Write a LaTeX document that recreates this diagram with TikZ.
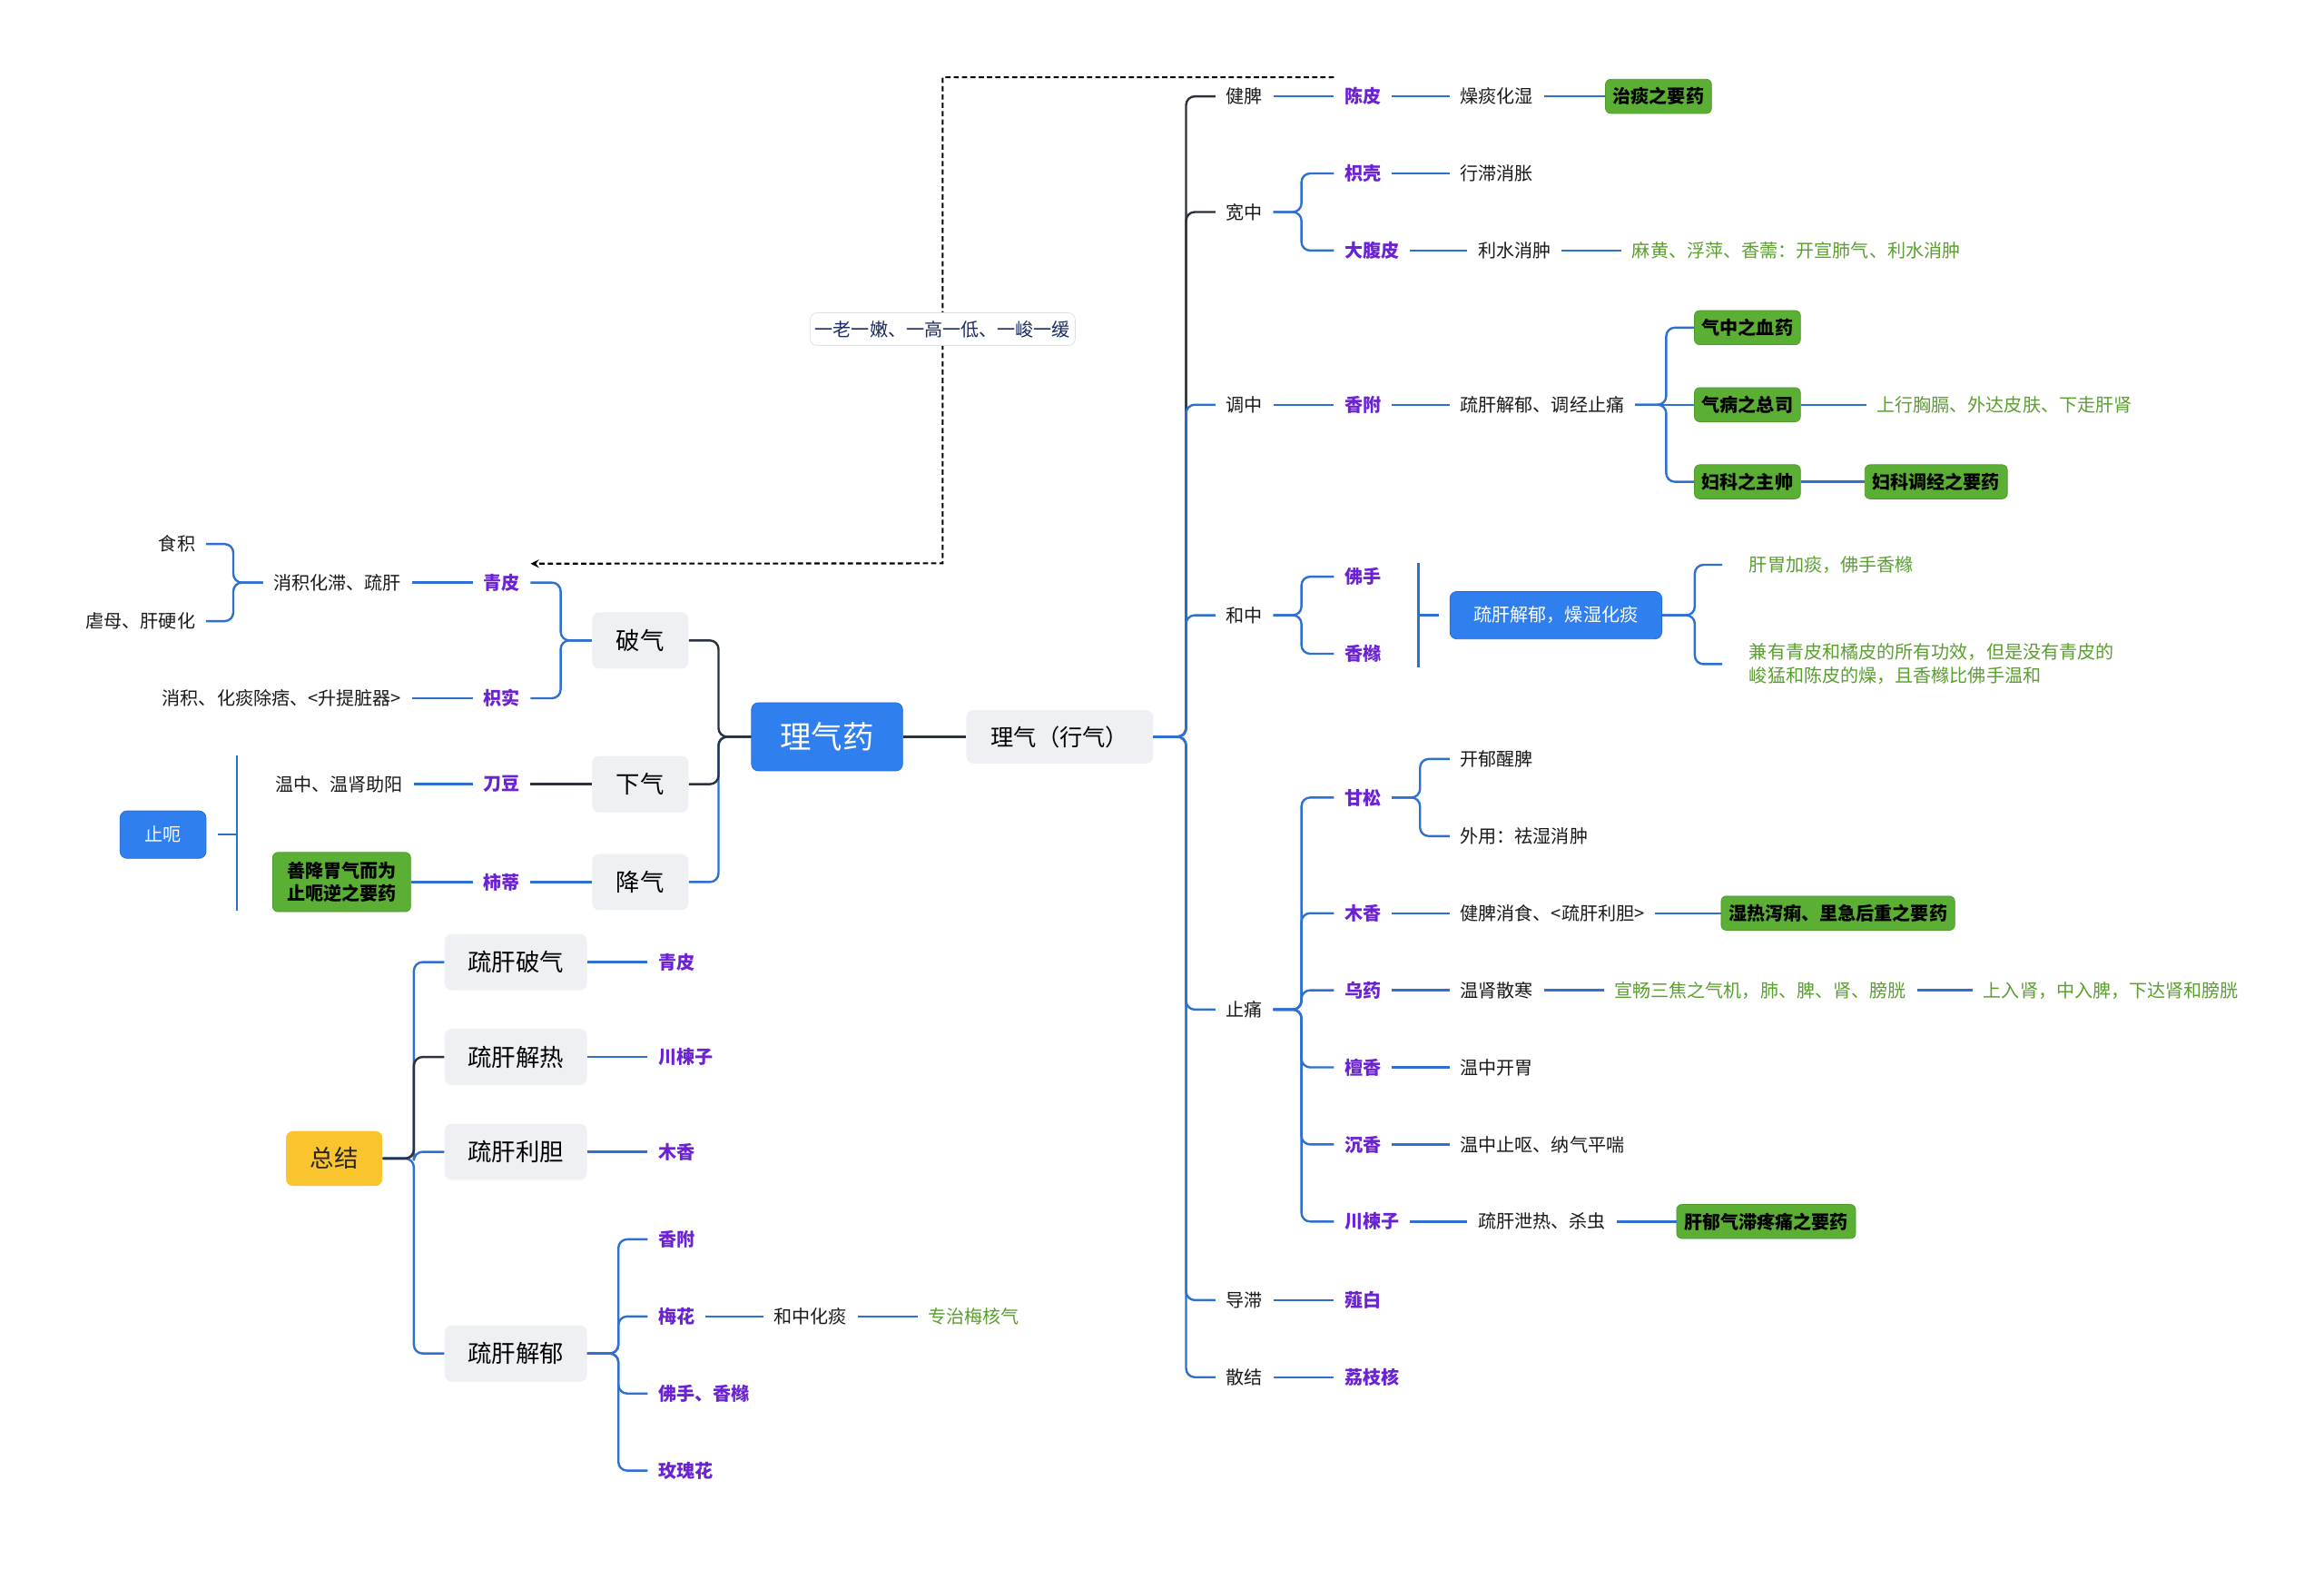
\documentclass[tikz,border=0pt]{standalone}
\usepackage{fontspec}
\setmainfont{Noto Sans CJK SC}
\usepackage{tikz}
\definecolor{rootblue}{HTML}{2F7FEF}
\definecolor{boxgray}{HTML}{EEF0F3}
\definecolor{keygreen}{HTML}{5BAF35}
\definecolor{keyedge}{HTML}{4C9A2A}
\definecolor{notegreen}{HTML}{5A9E2E}
\definecolor{herbpurple}{HTML}{6A22D2}
\definecolor{linkblue}{HTML}{2F6FD0}
\definecolor{linkdark}{HTML}{2B313D}
\definecolor{sumyellow}{HTML}{FAC42E}
\definecolor{tagnavy}{HTML}{1C2B5E}

\begin{document}
\begin{tikzpicture}[x=0.03cm,y=-0.03cm,>=stealth,
  font=\fontsize{10.5}{13.7}\selectfont,
  txt/.style={inner xsep=0.21cm,inner ysep=0.1cm,text=black!90},
  herb/.style={txt,text=herbpurple,font=\fontsize{10.5}{13.7}\selectfont\bfseries},
  note/.style={txt,text=notegreen,align=left},
  keybox/.style={fill=keygreen,draw=keyedge,rounded corners=3pt,inner xsep=0.15cm,minimum height=0.69cm,
    font=\fontsize{10.5}{12.8}\selectfont\bfseries,align=left},
  topic/.style={fill=boxgray,rounded corners=4pt,minimum width=1.95cm,minimum height=1.14cm,
    font=\fontsize{13.8}{16}\selectfont},
  bluebox/.style={fill=rootblue,draw=rootblue!85!black,rounded corners=4pt,text=white},
  conn/.style={draw=linkblue,line width=1.25pt,rounded corners=5pt},
  dconn/.style={conn,draw=linkdark},
  brk/.style={draw=linkblue,line width=1.1pt},
  rel/.style={draw=black,line width=1.1pt,dash pattern=on 3pt off 1.8pt,->},
  tag/.style={fill=white,draw=black!12,rounded corners=4pt,text=tagnavy,inner xsep=0.1cm,minimum height=0.66cm}]
\useasboundingbox (0,0) rectangle (1568,1058);

\node[bluebox,minimum width=3.06cm,minimum height=1.38cm,font=\fontsize{18}{20}\selectfont] (root) at (558,497) {理气药};
\node[topic,minimum width=3.78cm,minimum height=1.08cm,font=\fontsize{13.2}{16}\selectfont] (lqxq) at (715,497) {理气（行气）};

\node[txt,anchor=west] (jianpi) at (820,65) {健脾};
\node[txt,anchor=west] (kuanzhong) at (820,143) {宽中};
\node[txt,anchor=west] (tiaozhong) at (820,273) {调中};
\node[txt,anchor=west] (hezhong) at (820,415) {和中};
\node[txt,anchor=west] (zhitong) at (820,681) {止痛};
\node[txt,anchor=west] (daozhi) at (820,877) {导滞};
\node[txt,anchor=west] (sanjie) at (820,929) {散结};

\node[herb,anchor=west] (chenpi) at (900,65) {陈皮};
\node[txt,anchor=west] (zaotan) at (978,65) {燥痰化湿};
\node[keybox,anchor=west] (zhitan) at (1083,65) {治痰之要药};

\node[herb,anchor=west] (zhiqiao) at (900,117) {枳壳};
\node[txt,anchor=west] (xingzhi) at (978,117) {行滞消胀};
\node[herb,anchor=west] (dafupi) at (900,169) {大腹皮};
\node[txt,anchor=west] (lishui) at (990,169) {利水消肿};
\node[note,anchor=west] (mahuang) at (1094,169) {麻黄、浮萍、香薷：开宣肺气、利水消肿};

\node[herb,anchor=west] (xiangfu) at (900,273) {香附};
\node[txt,anchor=west] (shugan) at (978,273) {疏肝解郁、调经止痛};
\node[keybox,anchor=west] (qixue) at (1143,221) {气中之血药};
\node[keybox,anchor=west] (qibing) at (1143,273) {气病之总司};
\node[keybox,anchor=west] (fuke) at (1143,325) {妇科之主帅};
\node[note,anchor=west] (shangxing) at (1259,273) {上行胸膈、外达皮肤、下走肝肾};
\node[keybox,anchor=west] (fukeyao) at (1258,325) {妇科调经之要药};

\node[herb,anchor=west] (foshou) at (900,389) {佛手};
\node[herb,anchor=west] (xiangyuan) at (900,441) {香橼};
\coordinate (brkhz) at (957,415);
\node[bluebox,anchor=west,minimum width=4.29cm,minimum height=0.96cm] (shgy) at (978,415) {疏肝解郁，燥湿化痰};
\node[note,anchor=west,inner xsep=0.54cm] (ganwei) at (1162,381) {肝胃加痰，佛手香橼};
\node[note,anchor=west,inner xsep=0.54cm] (jianyou) at (1162,448) {兼有青皮和橘皮的所有功效，但是没有青皮的\\峻猛和陈皮的燥，且香橼比佛手温和};

\node[herb,anchor=west] (gansong) at (900,538) {甘松};
\node[txt,anchor=west] (kaiyu) at (978,512) {开郁醒脾};
\node[txt,anchor=west] (waiyong) at (978,564) {外用：祛湿消肿};
\node[herb,anchor=west] (muxiang) at (900,616) {木香};
\node[txt,anchor=west] (jianpixs) at (978,616) {健脾消食、<疏肝利胆>};
\node[keybox,anchor=west] (shire) at (1161,616) {湿热泻痢、里急后重之要药};
\node[herb,anchor=west] (wuyao) at (900,668) {乌药};
\node[txt,anchor=west] (wenshen) at (978,668) {温肾散寒};
\node[note,anchor=west] (xuanchang) at (1082,668) {宣畅三焦之气机，肺、脾、肾、膀胱};
\node[note,anchor=west] (shangru) at (1331,668) {上入肾，中入脾，下达肾和膀胱};
\node[herb,anchor=west] (tanxiang) at (900,720) {檀香};
\node[txt,anchor=west] (wenzhongkw) at (978,720) {温中开胃};
\node[herb,anchor=west] (chenxiang) at (900,772) {沉香};
\node[txt,anchor=west] (wenzhongzo) at (978,772) {温中止呕、纳气平喘};
\node[herb,anchor=west] (chuanlian) at (900,824) {川楝子};
\node[txt,anchor=west] (xieree) at (990,824) {疏肝泄热、杀虫};
\node[keybox,anchor=west] (ganyu) at (1131,824) {肝郁气滞疼痛之要药};

\node[herb,anchor=west] (xiebai) at (900,877) {薤白};
\node[herb,anchor=west] (lizhihe) at (900,929) {荔枝核};

\node[topic] (poqi) at (432,432) {破气};
\node[topic] (xiaqi) at (432,529) {下气};
\node[topic] (jiangqi) at (432,595) {降气};

\node[herb,anchor=east] (qingpi) at (358,393) {青皮};
\node[txt,anchor=east] (xiaoji) at (278,393) {消积化滞、疏肝};
\node[txt,anchor=east] (shiji) at (139,367) {食积};
\node[txt,anchor=east] (nuemu) at (139,419) {虐母、肝硬化};
\node[herb,anchor=east] (zhishi) at (358,471) {枳实};
\node[txt,anchor=east] (huatan) at (278,471) {消积、化痰除痞、<升提脏器>};

\node[herb,anchor=east] (daodou) at (358,529) {刀豆};
\node[txt,anchor=east] (wenshenzy) at (279,529) {温中、温肾助阳};
\node[herb,anchor=east] (shidi) at (358,595) {柿蒂};
\node[keybox,minimum width=2.79cm,minimum height=1.2cm] (shanjiang) at (230.5,595) {善降胃气而为\\止呃逆之要药};
\coordinate (brkze) at (160,563);
\node[bluebox,minimum width=1.74cm,minimum height=0.96cm] (zhie) at (110,563) {止呃};

\node[fill=sumyellow,rounded corners=4pt,minimum width=1.95cm,minimum height=1.11cm,
  font=\fontsize{13.8}{16}\selectfont,text=black!85] (zongjie) at (225.5,781.5) {总结};
\node[topic,minimum width=2.88cm] (sgpq) at (348,649) {疏肝破气};
\node[topic,minimum width=2.88cm] (sgjr) at (348,713) {疏肝解热};
\node[topic,minimum width=2.88cm] (sglD) at (348,777) {疏肝利胆};
\node[topic,minimum width=2.88cm] (sgjy) at (348,913) {疏肝解郁};
\node[herb,anchor=west] (qingpib) at (437,649) {青皮};
\node[herb,anchor=west] (chuanlianb) at (437,713) {川楝子};
\node[herb,anchor=west] (muxiangb) at (437,777) {木香};
\node[herb,anchor=west] (xiangfub) at (437,836) {香附};
\node[herb,anchor=west] (meihua) at (437,888) {梅花};
\node[herb,anchor=west] (foshouxy) at (437,940) {佛手、香橼};
\node[herb,anchor=west] (meigui) at (437,992) {玫瑰花};
\node[txt,anchor=west] (hezhonght) at (515,888) {和中化痰};
\node[note,anchor=west] (meihe) at (619,888) {专治梅核气};

\draw[dconn] (root) -- (lqxq);
\draw[dconn] (lqxq.east) -- ++(22,0) |- (jianpi.west);
\draw[dconn] (lqxq.east) -- ++(22,0) |- (kuanzhong.west);
\foreach \k in {tiaozhong,hezhong,zhitong,daozhi,sanjie}
  \draw[conn] (lqxq.east) -- ++(22,0) |- (\k.west);

\draw[conn] (jianpi) -- (chenpi);
\draw[conn] (chenpi) -- (zaotan);
\draw[conn] (zaotan) -- (zhitan);
\draw[conn] (kuanzhong.east) -- ++(19,0) |- (zhiqiao.west);
\draw[conn] (kuanzhong.east) -- ++(19,0) |- (dafupi.west);
\draw[conn] (zhiqiao) -- (xingzhi);
\draw[conn] (dafupi) -- (lishui);
\draw[conn] (lishui) -- (mahuang);
\draw[conn] (tiaozhong) -- (xiangfu);
\draw[conn] (xiangfu) -- (shugan);
\draw[conn] (shugan.east) -- ++(21,0) |- (qixue.west);
\draw[conn] (shugan.east) -- ++(21,0) |- (fuke.west);
\draw[conn] (shugan) -- (qibing);
\draw[conn] (qibing) -- (shangxing);
\draw[conn] (fuke) -- (fukeyao);

\draw[conn] (hezhong.east) -- ++(19,0) |- (foshou.west);
\draw[conn] (hezhong.east) -- ++(19,0) |- (xiangyuan.west);
\draw[brk] (brkhz |- foshou.north) -- (brkhz |- xiangyuan.south);
\draw[conn] (brkhz) -- ([xshift=-0.21cm]shgy.west);
\draw[conn] (shgy.east) -- ++(22,0) |- (ganwei.west);
\draw[conn] (shgy.east) -- ++(22,0) |- (jianyou.west);

\draw[conn] (zhitong.east) -- ++(19,0) |- (gansong.west);
\foreach \k in {muxiang,wuyao,tanxiang,chenxiang,chuanlian}
  \draw[conn] (zhitong.east) -- ++(19,0) |- (\k.west);
\draw[conn] (gansong.east) -- ++(19,0) |- (kaiyu.west);
\draw[conn] (gansong.east) -- ++(19,0) |- (waiyong.west);
\draw[conn] (muxiang) -- (jianpixs);
\draw[conn] (jianpixs) -- (shire);
\draw[conn] (wuyao) -- (wenshen);
\draw[conn] (wenshen) -- (xuanchang);
\draw[conn] (xuanchang) -- (shangru);
\draw[conn] (tanxiang) -- (wenzhongkw);
\draw[conn] (chenxiang) -- (wenzhongzo);
\draw[conn] (chuanlian) -- (xieree);
\draw[conn] (xieree) -- (ganyu);
\draw[conn] (daozhi) -- (xiebai);
\draw[conn] (sanjie) -- (lizhihe);

\draw[conn] (root.west) -- ++(-22,0) |- (jiangqi.east);
\draw[dconn] (root.west) -- ++(-22,0) |- (poqi.east);
\draw[dconn] (root.west) -- ++(-22,0) |- (xiaqi.east);
\draw[conn] (poqi.west) -- ++(-21,0) |- (qingpi.east);
\draw[conn] (poqi.west) -- ++(-21,0) |- (zhishi.east);
\draw[conn] (qingpi) -- (xiaoji);
\draw[conn] (xiaoji.west) -- ++(-20,0) |- (shiji.east);
\draw[conn] (xiaoji.west) -- ++(-20,0) |- (nuemu.east);
\draw[conn] (zhishi) -- (huatan);
\draw[dconn] (xiaqi) -- (daodou);
\draw[conn] (daodou) -- (wenshenzy);
\draw[conn] (jiangqi) -- (shidi);
\draw[conn] (shidi) -- (shanjiang);
\draw[brk] (brkze |- xiaqi.north) -- (brkze |- jiangqi.south);
\draw[conn] (brkze) -- ([xshift=0.24cm]zhie.east);

\foreach \k in {sgpq,sglD,sgjy}
  \draw[conn] (zongjie.east) -- ++(21,0) |- (\k.west);
\draw[dconn] (zongjie.east) -- ++(21,0) |- (sgjr.west);
\draw[conn] (sgpq) -- (qingpib);
\draw[conn] (sgjr) -- (chuanlianb);
\draw[conn] (sglD) -- (muxiangb);
\foreach \k in {xiangfub,meihua,foshouxy,meigui}
  \draw[conn] (sgjy.east) -- ++(21,0) |- (\k.west);
\draw[conn] (meihua) -- (hezhonght);
\draw[conn] (hezhonght) -- (meihe);

\draw[rel] ([yshift=0.1cm]chenpi.north west) -| (636,380) -- ([yshift=0.1cm]qingpi.north east);
\node[tag] (laonen) at (636,222) {一老一嫩、一高一低、一峻一缓};
\end{tikzpicture}
\end{document}
